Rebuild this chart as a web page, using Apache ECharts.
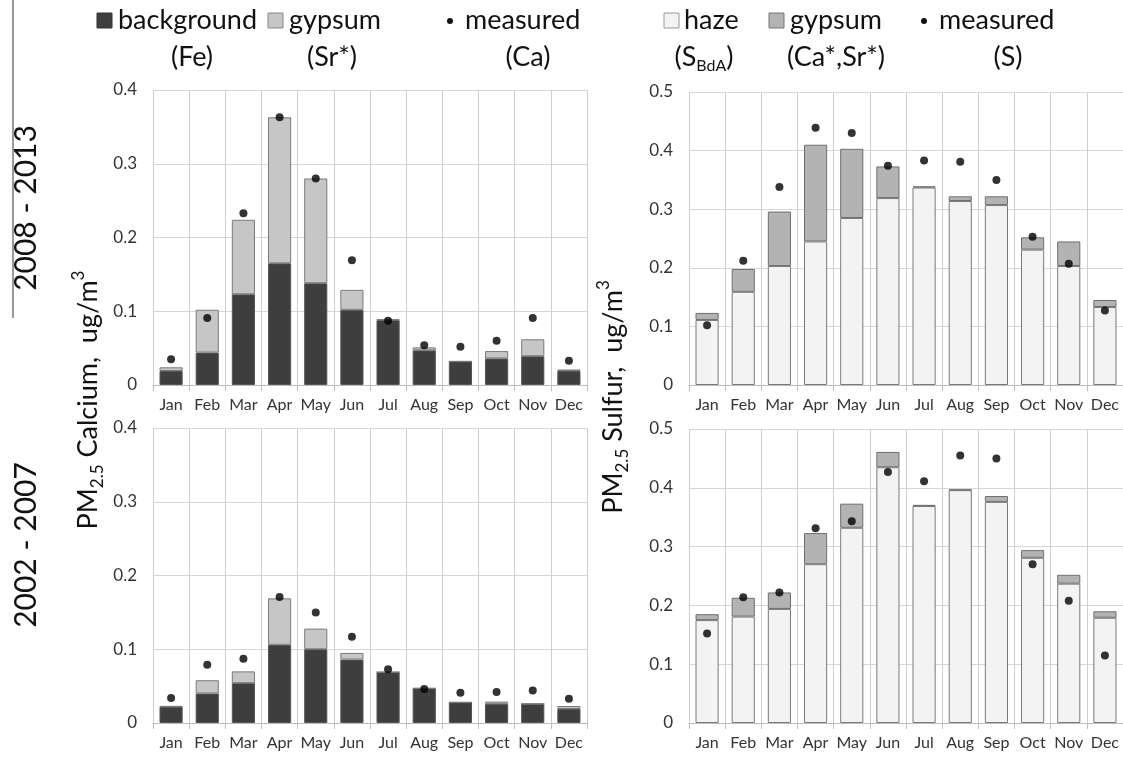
<!DOCTYPE html>
<html>
<head>
<meta charset="utf-8">
<script src="https://cdn.jsdelivr.net/npm/echarts@6/dist/echarts.min.js"></script>
<style>
  html, body { margin: 0; padding: 0; background: #fff; }
  #chart { width: 1123px; height: 759px; }
</style>
</head>
<body>
<div id="chart"></div>
<script>
// months on every panel
const months = ['Jan', 'Feb', 'Mar', 'Apr', 'May', 'Jun', 'Jul', 'Aug', 'Sep', 'Oct', 'Nov', 'Dec'];

// calcium, 2008 - 2013
const caBackground0813 = [0.019, 0.044, 0.123, 0.165, 0.138, 0.102, 0.088, 0.047, 0.032, 0.036, 0.039, 0.019];
const caGypsum0813 = [0.005, 0.058, 0.101, 0.198, 0.142, 0.027, 0.001, 0.004, 0.000, 0.010, 0.023, 0.002];
const caMeasured0813 = [0.035, 0.091, 0.233, 0.363, 0.280, 0.169, 0.087, 0.054, 0.052, 0.060, 0.091, 0.033];

// sulfur, 2008 - 2013
const sHaze0813 = [0.111, 0.159, 0.203, 0.245, 0.285, 0.319, 0.337, 0.314, 0.307, 0.231, 0.203, 0.133];
const sGypsum0813 = [0.012, 0.039, 0.093, 0.165, 0.118, 0.054, 0.002, 0.008, 0.015, 0.021, 0.042, 0.012];
const sMeasured0813 = [0.102, 0.212, 0.338, 0.439, 0.430, 0.374, 0.383, 0.381, 0.350, 0.253, 0.207, 0.127];

// calcium, 2002 - 2007
const caBackground0207 = [0.022, 0.040, 0.054, 0.106, 0.100, 0.086, 0.069, 0.047, 0.028, 0.026, 0.026, 0.019];
const caGypsum0207 = [0.001, 0.018, 0.016, 0.063, 0.028, 0.009, 0.000, 0.000, 0.000, 0.003, 0.000, 0.004];
const caMeasured0207 = [0.034, 0.079, 0.087, 0.171, 0.150, 0.117, 0.073, 0.046, 0.041, 0.042, 0.044, 0.033];

// sulfur, 2002 - 2007
const sHaze0207 = [0.175, 0.181, 0.194, 0.270, 0.332, 0.435, 0.369, 0.396, 0.376, 0.281, 0.237, 0.179];
const sGypsum0207 = [0.010, 0.032, 0.028, 0.053, 0.041, 0.026, 0.002, 0.001, 0.010, 0.013, 0.015, 0.011];
const sMeasured0207 = [0.152, 0.214, 0.222, 0.331, 0.343, 0.427, 0.411, 0.455, 0.450, 0.270, 0.208, 0.115];

const caMax = 0.4;
const sMax = 0.5;

const FONT = 'Lato, "Open Sans", sans-serif';
const C_BG = '#3e3e3e';
const C_GYP_CA = '#c6c6c6';
const C_HAZE = '#f3f3f3';
const C_GYP_S = '#b3b3b3';

const chart = echarts.init(document.getElementById('chart'));

function xAxis(grid) {
  return {
    type: 'category', gridIndex: grid, data: months,
    axisLine: { lineStyle: { color: '#bdbdbd', width: 1 } },
    axisTick: { show: true, length: 6, lineStyle: { color: '#bdbdbd' } },
    axisLabel: { color: '#333', fontSize: 16, fontFamily: FONT, margin: 12, interval: 0 },
    splitLine: { show: true, lineStyle: { color: '#cfcfcf', width: 1 } }
  };
}

function yAxis(grid, max) {
  return {
    type: 'value', gridIndex: grid, min: 0, max: max, interval: 0.1,
    axisLine: { show: false }, axisTick: { show: false },
    axisLabel: { color: '#333', fontSize: 17, fontFamily: FONT, margin: 16 },
    splitLine: { lineStyle: { color: '#d6d6d6', width: 1 } }
  };
}

function barSeries(name, grid, data, color, border) {
  return {
    name: name, type: 'bar', stack: 'p' + grid, xAxisIndex: grid, yAxisIndex: grid,
    data: data, barCategoryGap: '36%',
    itemStyle: { color: color, borderColor: border, borderWidth: 1 },
    emphasis: { disabled: true }
  };
}

function dotSeries(grid, data) {
  return {
    name: 'measured', type: 'scatter', xAxisIndex: grid, yAxisIndex: grid,
    data: data, symbolSize: 8, z: 5,
    itemStyle: { color: '#000' }
  };
}

function txt(x, y, text, size, align, extra) {
  return Object.assign({
    type: 'text', x: x, y: y,
    style: { text: text, font: size + 'px ' + FONT, fill: '#111', align: align || 'left', verticalAlign: 'middle' }
  }, extra || {});
}

function square(x, y, color, border) {
  return { type: 'rect', shape: { x: x, y: y, width: 15, height: 15 }, style: { fill: color, stroke: border, lineWidth: 1 } };
}

const rotatedLabel = (x, y, rich, text) => ({
  type: 'text', x: x, y: y, rotation: Math.PI / 2,
  style: { text: text, rich: rich, align: 'center', verticalAlign: 'middle', fill: '#111' }
});

const yTitleRich = {
  a: { fontSize: 27, fontFamily: FONT, lineHeight: 36, verticalAlign: 'middle', fill: '#111' },
  s: { fontSize: 17, fontFamily: FONT, lineHeight: 20, verticalAlign: 'bottom', fill: '#111' },
  p: { fontSize: 17, fontFamily: FONT, lineHeight: 20, verticalAlign: 'top', fill: '#111' }
};

const LF = 27;
const graphics = [
  // left legend
  square(97, 13, C_BG, '#333'),
  txt(118, 20, 'background', LF),
  square(268, 13, C_GYP_CA, '#888'),
  txt(289, 20, 'gypsum', LF),
  { type: 'circle', shape: { cx: 450, cy: 21, r: 3 }, style: { fill: '#111' } },
  txt(465, 20, 'measured', LF),
  txt(192, 57, '(Fe)', LF, 'center'),
  txt(332, 57, '(Sr*)', LF, 'center'),
  txt(528, 57, '(Ca)', LF, 'center'),
  // right legend
  square(664, 13, C_HAZE, '#999'),
  txt(684, 20, 'haze', LF),
  square(769, 13, C_GYP_S, '#777'),
  txt(790, 20, 'gypsum', LF),
  { type: 'circle', shape: { cx: 924, cy: 21, r: 3 }, style: { fill: '#111' } },
  txt(939, 20, 'measured', LF),
  {
    type: 'text', x: 704, y: 57,
    style: {
      text: '{a|(S}{s|BdA}{a|)}', align: 'center', verticalAlign: 'middle',
      rich: {
        a: { fontSize: LF, fontFamily: FONT, lineHeight: 34, verticalAlign: 'middle', fill: '#111' },
        s: { fontSize: 16, fontFamily: FONT, lineHeight: 17, verticalAlign: 'bottom', fill: '#111' }
      }
    }
  },
  txt(836, 57, '(Ca*,Sr*)', LF, 'center'),
  txt(1008, 57, '(S)', LF, 'center'),
  // period labels
  txt(26, 208, '2008 - 2013', 30, 'center', { rotation: Math.PI / 2 }),
  txt(26, 545, '2002 - 2007', 30, 'center', { rotation: Math.PI / 2 }),
  { type: 'line', shape: { x1: 13, y1: 0, x2: 13, y2: 318 }, style: { stroke: '#777', lineWidth: 1.5 } },
  // y axis titles
  rotatedLabel(88, 400, yTitleRich, '{a|PM}{s|2.5}{a| Calcium,  ug/m}{p|3}'),
  rotatedLabel(613, 397, yTitleRich, '{a|PM}{s|2.5}{a| Sulfur,  ug/m}{p|3}')
];

chart.setOption({
  animation: false,
  backgroundColor: '#fff',
  grid: [
    { left: 153, top: 90, width: 434, height: 295 },
    { left: 689, top: 92, width: 434, height: 293 },
    { left: 153, top: 428, width: 434, height: 295 },
    { left: 689, top: 429, width: 434, height: 294 }
  ],
  xAxis: [xAxis(0), xAxis(1), xAxis(2), xAxis(3)],
  yAxis: [yAxis(0, caMax), yAxis(1, sMax), yAxis(2, caMax), yAxis(3, sMax)],
  series: [
    barSeries('background', 0, caBackground0813, C_BG, '#555'),
    barSeries('gypsum', 0, caGypsum0813, C_GYP_CA, '#7a7a7a'),
    dotSeries(0, caMeasured0813),
    barSeries('haze', 1, sHaze0813, C_HAZE, '#7a7a7a'),
    barSeries('gypsum', 1, sGypsum0813, C_GYP_S, '#6f6f6f'),
    dotSeries(1, sMeasured0813),
    barSeries('background', 2, caBackground0207, C_BG, '#555'),
    barSeries('gypsum', 2, caGypsum0207, C_GYP_CA, '#7a7a7a'),
    dotSeries(2, caMeasured0207),
    barSeries('haze', 3, sHaze0207, C_HAZE, '#7a7a7a'),
    barSeries('gypsum', 3, sGypsum0207, C_GYP_S, '#6f6f6f'),
    dotSeries(3, sMeasured0207)
  ],
  graphic: graphics
});
</script>
</body>
</html>
